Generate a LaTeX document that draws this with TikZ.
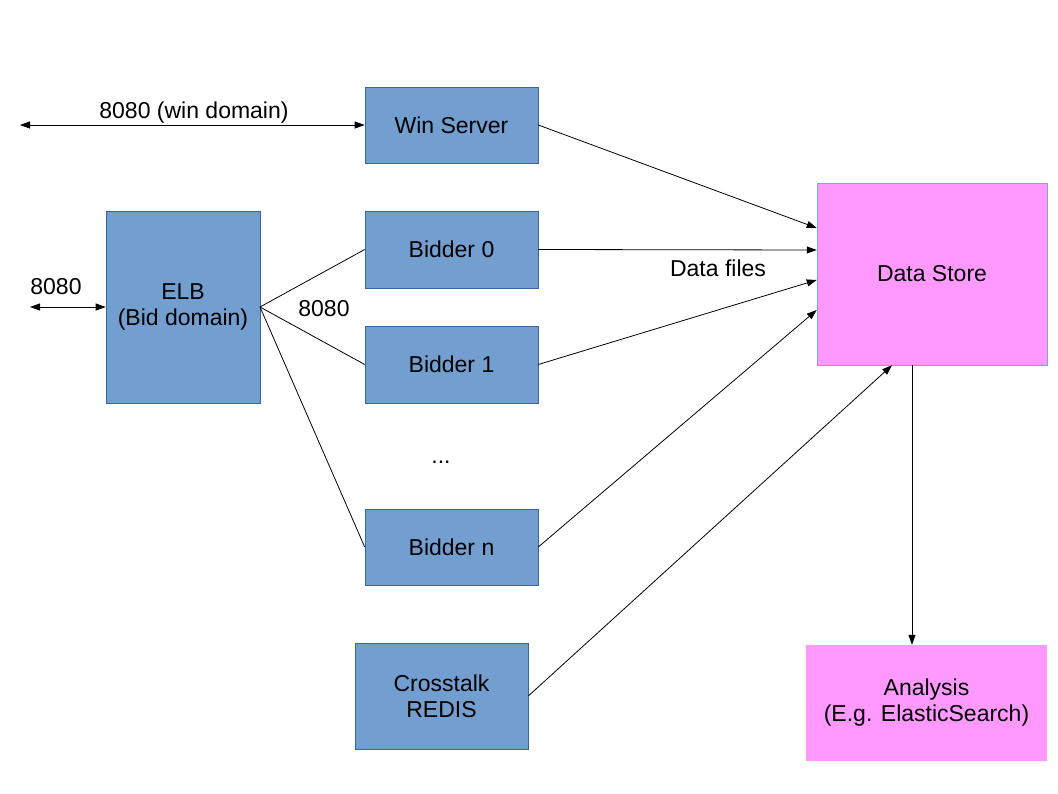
\documentclass[tikz,border=0pt]{standalone}
\usepackage{fontspec}
\setmainfont{Liberation Sans}
\usetikzlibrary{arrows.meta}
\definecolor{bluefill}{HTML}{729FCF}
\definecolor{blueline}{HTML}{3465A4}
\definecolor{pinkfill}{HTML}{FF99FF}
\begin{document}
\begin{tikzpicture}[x=1pt,y=-1pt,
  every node/.style={font=\fontsize{23}{26}\selectfont},
  bluebox/.style={draw=blueline,fill=bluefill,line width=0.6pt,align=center,inner sep=0pt},
  pinkbox/.style={fill=pinkfill,align=center,inner sep=0pt},
  lbl/.style={inner sep=0pt,align=center},
  conn/.style={line width=0.8pt,black},
  arr/.style={conn,-{Triangle[length=10pt,width=7pt]}},
  darr/.style={conn,{Triangle[length=10pt,width=7pt]}-{Triangle[length=10pt,width=7pt]}}
]
\useasboundingbox[fill=white] (0,0) rectangle (1058,794);
% boxes
\node[bluebox,minimum width=173pt,minimum height=76pt] (win) at (451.5,125) {Win Server};
\node[bluebox,minimum width=154pt,minimum height=192pt] (elb) at (183,307) {ELB\\(Bid domain)};
\node[bluebox,minimum width=173pt,minimum height=77pt] (b0) at (451.5,249.5) {Bidder 0};
\node[bluebox,minimum width=173pt,minimum height=77pt] (b1) at (451.5,364.5) {Bidder 1};
\node[bluebox,minimum width=173pt,minimum height=76pt] (bn) at (451.5,547) {Bidder n};
\node[bluebox,minimum width=173pt,minimum height=106pt] (redis) at (441.5,696) {Crosstalk\\REDIS};
\node[pinkbox,draw=blueline!60,line width=0.5pt,minimum width=230pt,minimum height=182pt] (ds) at (932,274) {Data Store};
\node[pinkbox,minimum width=241pt,minimum height=116pt] (an) at (926.5,703) {Analysis\\(E.g. ElasticSearch)};
% free ends
\coordinate (wl) at (20,125);
\coordinate (el) at (30,307);
\coordinate (elbr) at (260,307);
% labels
\node[lbl] (lwin) at (194,113) {8080 (win domain)};
\node[lbl] (lelb) at (56,287) {8080};
\node[lbl] (lb) at (324,309) {8080};
\node[lbl] (dots) at (441,462) {...};
\node[lbl] (ldf) at (718,268) {Data files};
% connectors
\draw[darr] (wl) -- (win.west);
\draw[darr] (el) -- (elb.west);
\draw[conn] (elbr) -- (b0.west);
\draw[conn] (elbr) -- (b1.west);
\draw[conn] (elbr) -- (bn.west);
\draw[arr] (win.east) -- ([yshift=46pt]ds.west);
\draw[arr] (b0.east) -- ([yshift=24pt]ds.west);
\draw[arr] (b1.east) -- ([yshift=-6pt]ds.west);
\draw[arr] (bn.east) -- ([yshift=-36pt]ds.west);
\draw[arr] (redis.east) -- ([xshift=-40pt]ds.south);
\draw[arr] ([xshift=-20pt]ds.south) -- ([xshift=-14.5pt]an.north);
\end{tikzpicture}
\end{document}
